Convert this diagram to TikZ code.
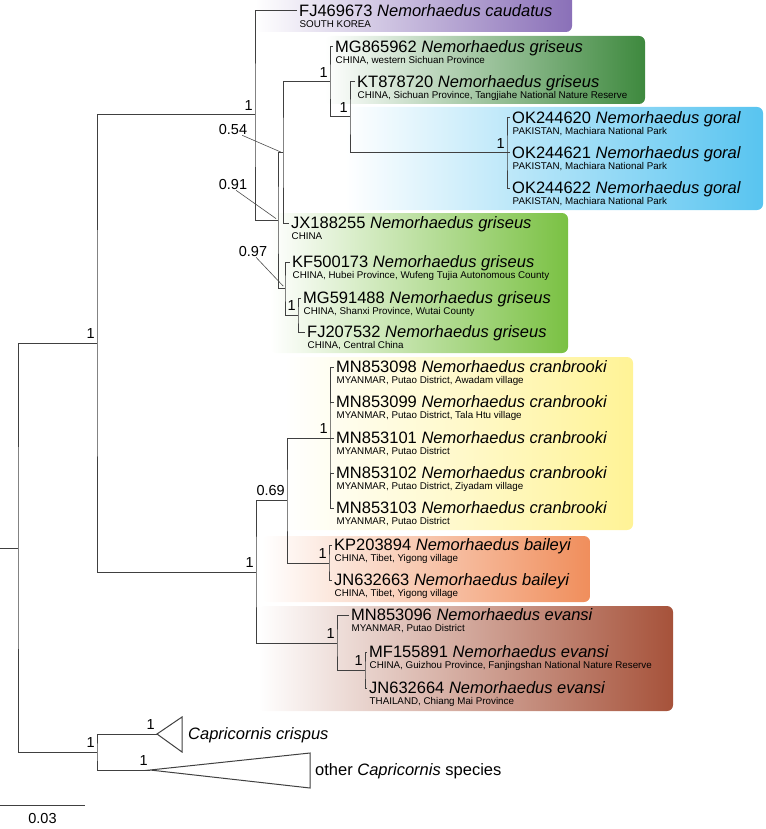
\documentclass[tikz,border=0pt]{standalone}
\usepackage{fontspec}
\setmainfont{Liberation Sans}
\usetikzlibrary{positioning}

% Clade colours
\definecolor{cladepurple}{RGB}{138,112,184}
\definecolor{cladedkgreen}{RGB}{62,137,62}
\definecolor{cladeblue}{RGB}{88,196,240}
\definecolor{cladeltgreen}{RGB}{122,193,67}
\definecolor{cladeyellow}{RGB}{255,243,150}
\definecolor{cladeorange}{RGB}{240,142,92}
\definecolor{cladebrown}{RGB}{166,82,58}

\begin{document}
\begin{tikzpicture}[
    x=1pt, y=-1pt,
    % --- Style Definitions ---
    branch/.style={draw=black!75, line width=1pt},
    leader/.style={draw=black!70, line width=0.6pt, shorten >=2.5pt},
    clade/.style={rounded corners=6pt, left color=white, right color=#1},
    taxon/.style={inner sep=0pt, text height=11.5pt, text depth=0pt,
        font=\fontsize{16.5}{18}\selectfont},
    locality/.style={inner sep=0pt, text height=7pt, text depth=0pt,
        font=\fontsize{9.8}{11}\selectfont},
    support/.style={inner sep=0pt, font=\fontsize{14.5}{16}\selectfont}
]
\useasboundingbox (0,0) rectangle (765,829);

% ================= Clade boxes =================
\begin{scope}
    \clip (0,0) rectangle (765,829);
    \path[clade=cladepurple]  (255,-10) rectangle (572,32);
    \path[clade=cladedkgreen] (325,36)  rectangle (645,104);
    \path[clade=cladeblue]    (345,107) rectangle (763,210);
    \path[clade=cladeltgreen] (270,213) rectangle (568,353);
    \path[clade=cladeyellow]  (285,357) rectangle (633,530);
    \path[clade=cladeorange]  (262,536) rectangle (590,602);
    \path[clade=cladebrown]   (258,606) rectangle (673,711);
\end{scope}

% ================= Internal nodes =================
\coordinate (rootStub) at (0,548);
\coordinate (root)     at (18,548);
\coordinate (nNem)     at (97,343);
\coordinate (nCap)     at (97,752);
\coordinate (nC)       at (255,115);
\coordinate (nB)       at (278,220);
\coordinate (nA)       at (283,153);
\coordinate (nD)       at (330,82);
\coordinate (nKT)      at (350,117);
\coordinate (nGoral)   at (507,153);
\coordinate (nE)       at (285,288);
\coordinate (nF)       at (298,315);
\coordinate (nH)       at (256,572);
\coordinate (nG)       at (287,500);
\coordinate (nCran)    at (330,438);
\coordinate (nBai)     at (329,563);
\coordinate (nEv)      at (337,643);
\coordinate (nI)       at (365,670);
\coordinate (tCrispus) at (157,734);
\coordinate (tOther)   at (150,770);

% ================= Leaves =================
\coordinate (tFJ469673) at (297,11);
\node[taxon, right=2pt of tFJ469673] (FJ469673) {FJ469673 \textit{Nemorhaedus caudatus}};
\node[locality, below right=3.7pt and 0.5pt of FJ469673.south west] (FJ469673loc) {SOUTH KOREA};

\coordinate (tMG865962) at (333,47);
\node[taxon, right=2pt of tMG865962] (MG865962) {MG865962 \textit{Nemorhaedus griseus}};
\node[locality, below right=3.7pt and 0.5pt of MG865962.south west] (MG865962loc) {CHINA, western Sichuan Province};

\coordinate (tKT878720) at (355,82);
\node[taxon, right=2pt of tKT878720] (KT878720) {KT878720 \textit{Nemorhaedus griseus}};
\node[locality, below right=3.7pt and 0.5pt of KT878720.south west] (KT878720loc) {CHINA, Sichuan Province, Tangjiahe National Nature Reserve};

\coordinate (tOK244620) at (510,118);
\node[taxon, right=2pt of tOK244620] (OK244620) {OK244620 \textit{Nemorhaedus goral}};
\node[locality, below right=3.7pt and 0.5pt of OK244620.south west] (OK244620loc) {PAKISTAN, Machiara National Park};

\coordinate (tOK244621) at (510,153);
\node[taxon, right=2pt of tOK244621] (OK244621) {OK244621 \textit{Nemorhaedus goral}};
\node[locality, below right=3.7pt and 0.5pt of OK244621.south west] (OK244621loc) {PAKISTAN, Machiara National Park};

\coordinate (tOK244622) at (510,188);
\node[taxon, right=2pt of tOK244622] (OK244622) {OK244622 \textit{Nemorhaedus goral}};
\node[locality, below right=3.7pt and 0.5pt of OK244622.south west] (OK244622loc) {PAKISTAN, Machiara National Park};

\coordinate (tJX188255) at (289,223);
\node[taxon, right=2pt of tJX188255] (JX188255) {JX188255 \textit{Nemorhaedus griseus}};
\node[locality, below right=3.7pt and 0.5pt of JX188255.south west] (JX188255loc) {CHINA};

\coordinate (tKF500173) at (290,262);
\node[taxon, right=2pt of tKF500173] (KF500173) {KF500173 \textit{Nemorhaedus griseus}};
\node[locality, below right=3.7pt and 0.5pt of KF500173.south west] (KF500173loc) {CHINA, Hubei Province, Wufeng Tujia Autonomous County};

\coordinate (tMG591488) at (301,298);
\node[taxon, right=2pt of tMG591488] (MG591488) {MG591488 \textit{Nemorhaedus griseus}};
\node[locality, below right=3.7pt and 0.5pt of MG591488.south west] (MG591488loc) {CHINA, Shanxi Province, Wutai County};

\coordinate (tFJ207532) at (305,332);
\node[taxon, right=2pt of tFJ207532] (FJ207532) {FJ207532 \textit{Nemorhaedus griseus}};
\node[locality, below right=3.7pt and 0.5pt of FJ207532.south west] (FJ207532loc) {CHINA, Central China};

\coordinate (tMN853098) at (334,367);
\node[taxon, right=2pt of tMN853098] (MN853098) {MN853098 \textit{Nemorhaedus cranbrooki}};
\node[locality, below right=3.7pt and 0.5pt of MN853098.south west] (MN853098loc) {MYANMAR, Putao District, Awadam village};

\coordinate (tMN853099) at (334,402);
\node[taxon, right=2pt of tMN853099] (MN853099) {MN853099 \textit{Nemorhaedus cranbrooki}};
\node[locality, below right=3.7pt and 0.5pt of MN853099.south west] (MN853099loc) {MYANMAR, Putao District, Tala Htu village};

\coordinate (tMN853101) at (334,438);
\node[taxon, right=2pt of tMN853101] (MN853101) {MN853101 \textit{Nemorhaedus cranbrooki}};
\node[locality, below right=3.7pt and 0.5pt of MN853101.south west] (MN853101loc) {MYANMAR, Putao District};

\coordinate (tMN853102) at (334,473);
\node[taxon, right=2pt of tMN853102] (MN853102) {MN853102 \textit{Nemorhaedus cranbrooki}};
\node[locality, below right=3.7pt and 0.5pt of MN853102.south west] (MN853102loc) {MYANMAR, Putao District, Ziyadam village};

\coordinate (tMN853103) at (334,508);
\node[taxon, right=2pt of tMN853103] (MN853103) {MN853103 \textit{Nemorhaedus cranbrooki}};
\node[locality, below right=3.7pt and 0.5pt of MN853103.south west] (MN853103loc) {MYANMAR, Putao District};

\coordinate (tKP203894) at (332,545);
\node[taxon, right=2pt of tKP203894] (KP203894) {KP203894 \textit{Nemorhaedus baileyi}};
\node[locality, below right=3.7pt and 0.5pt of KP203894.south west] (KP203894loc) {CHINA, Tibet, Yigong village};

\coordinate (tJN632663) at (332,580);
\node[taxon, right=2pt of tJN632663] (JN632663) {JN632663 \textit{Nemorhaedus baileyi}};
\node[locality, below right=3.7pt and 0.5pt of JN632663.south west] (JN632663loc) {CHINA, Tibet, Yigong village};

\coordinate (tMN853096) at (349,615);
\node[taxon, right=2pt of tMN853096] (MN853096) {MN853096 \textit{Nemorhaedus evansi}};
\node[locality, below right=3.7pt and 0.5pt of MN853096.south west] (MN853096loc) {MYANMAR, Putao District};

\coordinate (tMF155891) at (367,652);
\node[taxon, right=2pt of tMF155891] (MF155891) {MF155891 \textit{Nemorhaedus evansi}};
\node[locality, below right=3.7pt and 0.5pt of MF155891.south west] (MF155891loc) {CHINA, Guizhou Province, Fanjingshan National Nature Reserve};

\coordinate (tJN632664) at (367,688);
\node[taxon, right=2pt of tJN632664] (JN632664) {JN632664 \textit{Nemorhaedus evansi}};
\node[locality, below right=3.7pt and 0.5pt of JN632664.south west] (JN632664loc) {THAILAND, Chiang Mai Province};

% Collapsed Capricornis clades
\draw[branch] (tCrispus) -- (182,717) -- (182,752) -- cycle;
\draw[branch] (tOther) -- (310,753) -- (310,788) -- cycle;
\node[taxon, right=6pt of tCrispus, xshift=25pt] (crispus) {\textit{Capricornis crispus}};
\node[taxon, right=5pt of tOther, xshift=160pt] (otherCap) {other \textit{Capricornis} species};

% ================= Branches =================
\draw[branch] (rootStub) -- (root);
\draw[branch] (nNem) -| (root) |- (nCap);
\draw[branch] (nC) -| (nNem) |- (nH);
\draw[branch] (tFJ469673) -| (nC) |- (nB);
\draw[branch] (nA) -| (nB) |- (nE);
\draw[branch] (nD) -| (nA) |- (tJX188255);
\draw[branch] (tMG865962) -| (nD) |- (nKT);
\draw[branch] (tKT878720) -| (nKT) |- (nGoral);
\draw[branch] (tOK244620) -| (nGoral) |- (tOK244622);
\draw[branch] (nGoral) -- (tOK244621);
\draw[branch] (tKF500173) -| (nE) |- (nF);
\draw[branch] (tMG591488) -| (nF) |- (tFJ207532);
\draw[branch] (nG) -| (nH) |- (nEv);
\draw[branch] (nCran) -| (nG) |- (nBai);
\draw[branch] (tMN853098) -| (nCran) |- (tMN853103);
\draw[branch] (tMN853099) -- (tMN853099 -| nCran);
\draw[branch] (tMN853101) -- (nCran);
\draw[branch] (tMN853102) -- (tMN853102 -| nCran);
\draw[branch] (tKP203894) -| (nBai) |- (tJN632663);
\draw[branch] (tMN853096) -| (nEv) |- (nI);
\draw[branch] (tMF155891) -| (nI) |- (tJN632664);
\draw[branch] (tCrispus) -| (nCap) |- (tOther);

% ================= Support values =================
\node[support, above left=4pt and 2pt of nNem] (sNem) {1};
\node[support, above left=4pt and 2pt of nC] (sC) {1};
\node[support, above left=4pt and 2pt of nD] (sD) {1};
\node[support, above left=4pt and 2pt of nKT] (sKT) {1};
\node[support, above left=4pt and 2pt of nGoral] (sGoral) {1};
\node[support, above left=4pt and 2pt of nF] (sF) {1};
\node[support, above left=4pt and 2pt of nCran] (sCran) {1};
\node[support, above left=4pt and 2pt of nG] (sG) {0.69};
\node[support, above left=4pt and 2pt of nH] (sH) {1};
\node[support, above left=4pt and 2pt of nBai] (sBai) {1};
\node[support, above left=4pt and 2pt of nEv] (sEv) {1};
\node[support, above left=4pt and 2pt of nI] (sI) {1};
\node[support, above left=4pt and 2pt of nCap] (sCap) {1};
\node[support, above left=4pt and 2pt of tCrispus] (sCrispus) {1};
\node[support, above left=4pt and 2pt of tOther] (sOther) {1};

% values with leader lines
\node[support] (s054) at (233,130) {0.54};
\node[support] (s091) at (233,185) {0.91};
\node[support] (s097) at (253,252) {0.97};
\draw[leader] (s054.-30) -- (nA);
\draw[leader] (s091.-60) -- (nB);
\draw[leader] (s097.-60) -- (nE);

% ================= Scale bar =================
\coordinate (barL) at (0,805);
\coordinate (barR) at (85,805);
\draw[branch] (barL) -- node[support, below=8pt] (barText) {0.03} (barR);

\end{tikzpicture}
\end{document}
